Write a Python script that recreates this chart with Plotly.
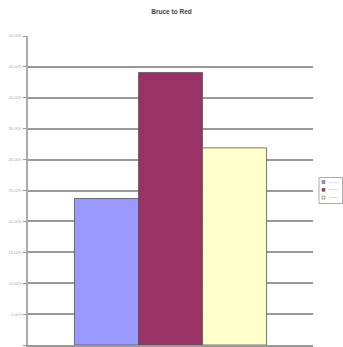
import plotly.graph_objects as go

# Share of responses per series (percent)
categories = [""]
series_names = ["Series1", "Series2", "Series3"]
series_values = [23.7, 44.1, 31.9]
series_colors = ["#9999FF", "#993366", "#FFFFCC"]
tick_values = [0, 5, 10, 15, 20, 25, 30, 35, 40, 45, 50]
tick_labels = [f"{v:.2f}%" for v in tick_values]

W, H = 343, 347
ML, MR, MT, MB = 28, 30, 36, 2


def px_x(x):
    # pixel column -> paper x
    return (x - ML) / (W - ML - MR)


def px_y(y):
    # pixel row -> paper y
    return (H - MB - y) / (H - MT - MB)


fig = go.Figure()
for name, val, col in zip(series_names, series_values, series_colors):
    fig.add_trace(go.Bar(
        x=categories, y=[val], name=name, showlegend=False,
        marker=dict(color=col, line=dict(color="#555555", width=0.8)),
    ))

# compact legend box with small colour keys
shapes = [dict(type="rect", xref="paper", yref="paper",
               x0=px_x(319), x1=px_x(342.5), y0=px_y(177.5), y1=px_y(203.5),
               line=dict(color="#aaaaaa", width=1), fillcolor="white")]
annotations = []
for i, (name, col) in enumerate(zip(series_names, series_colors)):
    cy = 182 + i * 7.8
    shapes.append(dict(type="rect", xref="paper", yref="paper",
                       x0=px_x(322), x1=px_x(325), y0=px_y(cy - 1.5), y1=px_y(cy + 1.5),
                       line=dict(color="#555555", width=0.5), fillcolor=col))
    annotations.append(dict(text=name, xref="paper", yref="paper",
                            x=px_x(327), y=px_y(cy), xanchor="left", yanchor="middle",
                            showarrow=False, font=dict(size=2.5, color="#aaaaaa")))

fig.update_layout(
    width=W, height=H,
    margin=dict(l=ML, r=MR, t=MT, b=MB),
    paper_bgcolor="white", plot_bgcolor="white",
    barmode="group", bargap=0.326, bargroupgap=0,
    title=dict(text="<b>Bruce to Red</b>", x=0.5, xanchor="center", y=0.965, yanchor="middle",
               font=dict(family="Liberation Sans", size=6.5, color="#444444")),
    font=dict(family="Liberation Sans", size=4, color="#999999"),
    showlegend=False,
    shapes=shapes,
    annotations=annotations,
    xaxis=dict(showticklabels=False, showgrid=False, zeroline=False,
               showline=True, linecolor="#999999", linewidth=2),
    yaxis=dict(range=[0, 50], tickvals=tick_values, ticktext=tick_labels,
               showgrid=True, gridcolor="#999999", gridwidth=2,
               showline=True, linecolor="#aaaaaa", linewidth=2,
               ticks="outside", ticklen=3, tickcolor="#999999",
               zeroline=False, tickfont=dict(size=4, color="#aaaaaa")),
)

fig.write_html("out.html")
